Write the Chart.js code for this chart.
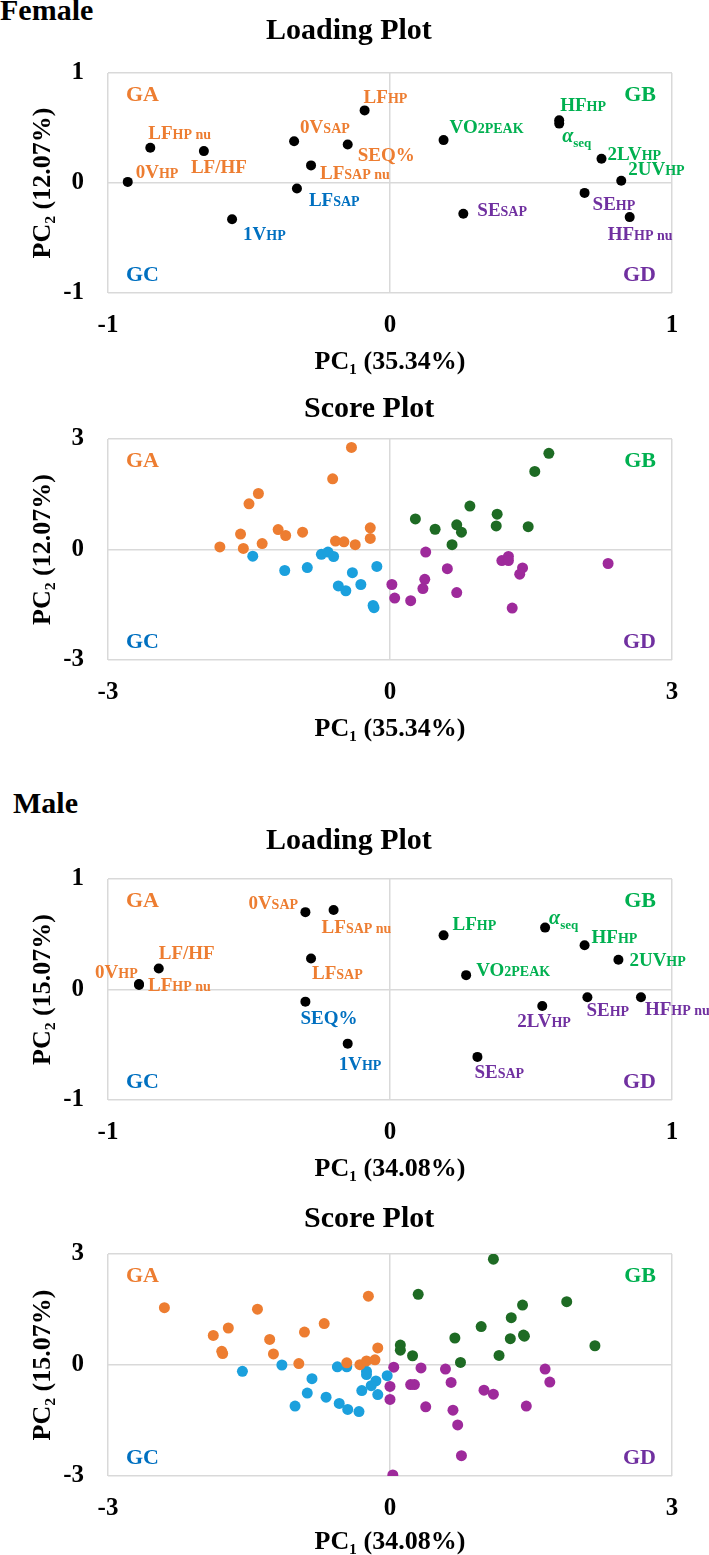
<!DOCTYPE html>
<html>
<head>
<meta charset="utf-8">
<script src="https://cdn.jsdelivr.net/npm/chart.js@4.4.1/dist/chart.umd.min.js"></script>
<style>
  body { margin: 0; width: 709px; height: 1555px; position: relative; background: #fff; overflow: hidden; }
  .head { position: absolute; font: bold 30px "Liberation Serif", "Times New Roman", serif; line-height: 30px; white-space: nowrap; color: #000; z-index: 2; }
  canvas { position: absolute; left: 0; }
</style>
</head>
<body>
<div class="head" style="left:0;top:-5px">Female</div>
<div class="head" style="left:266px;top:14px">Loading Plot</div>
<div class="head" style="left:304px;top:392px">Score Plot</div>
<div class="head" style="left:13px;top:788px">Male</div>
<div class="head" style="left:266px;top:824px">Loading Plot</div>
<div class="head" style="left:304px;top:1202px">Score Plot</div>

<canvas id="female-loading" width="709" height="344" style="top:34px"></canvas>
<canvas id="female-score" width="709" height="345" style="top:400px"></canvas>
<canvas id="male-loading" width="709" height="345" style="top:840px"></canvas>
<canvas id="male-score" width="709" height="343" style="top:1215px"></canvas>

<script>
// quadrant groups
const groupNames = ["GA", "GB", "GC", "GD"];

// loading plot, female  ("|" = smaller part, "_" = subscript)
const femaleVars = ["0V|HP", "LF|HP nu", "LF/HF", "1V|HP", "0V|SAP", "LF|SAP", "LF|SAP nu", "SEQ%", "LF|HP",
    "VO|2PEAK", "SE|SAP", "HF|HP", "α_seq", "2LV|HP", "2UV|HP", "SE|HP", "HF|HP nu"];
const femalePC1 = [-0.93, -0.85, -0.66, -0.56, -0.34, -0.33, -0.28, -0.15, -0.09, 0.19, 0.26, 0.60, 0.60, 0.75, 0.82, 0.69, 0.85];
const femalePC2 = [0.01, 0.32, 0.29, -0.33, 0.38, -0.05, 0.16, 0.35, 0.66, 0.39, -0.28, 0.57, 0.54, 0.22, 0.02, -0.09, -0.31];
const femaleGroup = ["GA", "GA", "GA", "GC", "GA", "GC", "GA", "GA", "GA", "GB", "GD", "GB", "GB", "GB", "GB", "GD", "GD"];

// loading plot, male
const maleVars = ["0V|HP", "LF|HP nu", "LF/HF", "0V|SAP", "LF|SAP nu", "LF|SAP", "SEQ%", "1V|HP", "LF|HP",
    "α_seq", "HF|HP", "2UV|HP", "VO|2PEAK", "2LV|HP", "SE|HP", "HF|HP nu", "SE|SAP"];
const malePC1 = [-0.89, -0.89, -0.82, -0.30, -0.20, -0.28, -0.30, -0.15, 0.19, 0.55, 0.69, 0.81, 0.27, 0.54, 0.70, 0.89, 0.31];
const malePC2 = [0.04, 0.05, 0.19, 0.70, 0.72, 0.28, -0.11, -0.49, 0.49, 0.56, 0.40, 0.27, 0.13, -0.15, -0.07, -0.07, -0.61];
const maleGroup = ["GA", "GA", "GA", "GA", "GA", "GA", "GC", "GC", "GB", "GB", "GB", "GB", "GB", "GD", "GD", "GD", "GD"];

// score plot, female [PC1, PC2]
const femaleScoreGA = [[-0.41, 2.77], [-0.61, 1.92], [-1.40, 1.52], [-1.50, 1.24], [-1.81, 0.07], [-1.56, 0.03],
    [-1.59, 0.42], [-1.36, 0.16], [-1.19, 0.54], [-1.11, 0.38], [-0.93, 0.47], [-0.58, 0.23], [-0.49, 0.21],
    [-0.37, 0.13], [-0.21, 0.59], [-0.21, 0.30]];
const femaleScoreGB = [[1.69, 2.61], [1.54, 2.12], [0.85, 1.18], [0.27, 0.83], [0.48, 0.55], [0.71, 0.67],
    [0.76, 0.47], [0.66, 0.13], [1.14, 0.96], [1.13, 0.64], [1.47, 0.62]];
const femaleScoreGC = [[-1.46, -0.18], [-1.12, -0.57], [-0.88, -0.49], [-0.73, -0.13], [-0.66, -0.07],
    [-0.60, -0.19], [-0.40, -0.63], [-0.55, -0.99], [-0.47, -1.12], [-0.31, -0.95], [-0.14, -0.46],
    [-0.18, -1.52], [-0.17, -1.58]];
const femaleScoreGD = [[0.38, -0.07], [0.61, -0.52], [0.37, -0.81], [0.35, -1.06], [0.02, -0.95], [0.05, -1.32],
    [0.22, -1.39], [0.71, -1.17], [1.19, -0.30], [1.26, -0.19], [1.26, -0.30], [1.41, -0.50], [1.38, -0.67],
    [1.30, -1.59], [2.32, -0.38]];

// score plot, male [PC1, PC2]
const maleScoreGA = [[-2.40, 1.55], [-1.41, 1.51], [-0.23, 1.86], [-1.72, 1.00], [-1.88, 0.80], [-0.70, 1.12],
    [-0.91, 0.89], [-1.28, 0.69], [-1.79, 0.37], [-1.78, 0.31], [-1.24, 0.30], [-0.97, 0.04], [-0.46, 0.06],
    [-0.13, 0.46], [-0.32, 0.01], [-0.25, 0.11], [-0.16, 0.14]];
const maleScoreGB = [[1.10, 2.86], [0.30, 1.91], [1.88, 1.71], [1.41, 1.62], [1.29, 1.28], [0.97, 1.04],
    [0.69, 0.73], [1.28, 0.71], [1.42, 0.81], [1.43, 0.78], [2.18, 0.52], [0.11, 0.54], [0.11, 0.40],
    [0.24, 0.25], [1.16, 0.26], [0.75, 0.07]];
const maleScoreGC = [[-1.57, -0.17], [-1.15, 0.00], [-0.83, -0.37], [-0.88, -0.76], [-1.01, -1.11], [-0.68, -0.87],
    [-0.54, -1.04], [-0.45, -1.20], [-0.33, -1.26], [-0.56, -0.05], [-0.46, -0.05], [-0.25, -0.17],
    [-0.25, -0.26], [-0.15, -0.43], [-0.20, -0.56], [-0.30, -0.69], [-0.13, -0.80], [-0.03, -0.29]];
const maleScoreGD = [[0.04, -0.06], [0.33, -0.08], [0.59, -0.11], [1.65, -0.11], [1.70, -0.46], [0.65, -0.47],
    [0.00, -0.58], [0.22, -0.53], [0.26, -0.53], [0.00, -0.93], [0.38, -1.13], [0.67, -1.22], [0.72, -1.62],
    [0.76, -2.45], [0.03, -2.97], [1.00, -0.68], [1.10, -0.79], [1.45, -1.11]];

/* ---------- styling ---------- */
const serif = '"Liberation Serif", "Times New Roman", serif';
const textColors = { GA: "rgb(237,125,49)", GB: "rgb(0,176,80)", GC: "rgb(0,112,192)", GD: "rgb(112,48,160)" };
const dotColors = { GA: "rgb(237,125,49)", GB: "rgb(30,107,36)", GC: "rgb(27,160,221)", GD: "rgb(158,42,155)" };

// label placement next to each point: [dx to left edge, dy to baseline]
const femaleLabelOffsets = [[8, -4], [-2, -9], [-13, 22], [11, 21], [6, -8], [12, 17], [9, 14], [10, 16], [-1, -7],
    [6, -7], [14, 2], [1, -9], [3, 18], [6, 1], [7, -6], [8, 17], [-22, 23]];
const maleLabelOffsets = [[-44, -7], [9, 7], [0, -10], [-57, -3], [-12, 23], [1, 20], [-5, 22], [-9, 26], [9, -5],
    [4, -4], [7, -2], [11, 6], [10, 1], [-25, 21], [-1, 19], [4, 18], [-3, 21]];

function drawRich(ctx, spec, x, y, color) {
    ctx.fillStyle = color;
    ctx.textAlign = "left";
    ctx.textBaseline = "alphabetic";
    if (spec.includes("_")) {
        const [a, b] = spec.split("_");
        ctx.font = "italic bold 20px " + serif;
        ctx.fillText(a, x, y);
        const w = ctx.measureText(a).width;
        ctx.font = "bold 13px " + serif;
        ctx.fillText(b, x + w, y + 5);
        return;
    }
    const [big, small] = spec.split("|");
    ctx.font = "bold 19px " + serif;
    ctx.fillText(big, x, y);
    if (small) {
        const w = ctx.measureText(big).width;
        ctx.font = "bold 14px " + serif;
        ctx.fillText(small, x + w, y);
    }
}

const annotatePlugin = {
    id: "annotate",
    afterDatasetsDraw(chart, args, opts) {
        const ctx = chart.ctx;
        const a = chart.chartArea;
        ctx.save();
        ctx.font = "bold 22px " + serif;
        ctx.textBaseline = "alphabetic";
        ctx.fillStyle = textColors.GA; ctx.textAlign = "left";
        ctx.fillText(groupNames[0], a.left + 18, a.top + 28);
        ctx.fillStyle = textColors.GC;
        ctx.fillText(groupNames[2], a.left + 18, a.bottom - 12);
        ctx.fillStyle = textColors.GB; ctx.textAlign = "right";
        ctx.fillText(groupNames[1], a.right - 16, a.top + 28);
        ctx.fillStyle = textColors.GD;
        ctx.fillText(groupNames[3], a.right - 16, a.bottom - 12);
        if (opts.names) {
            const meta = chart.getDatasetMeta(0);
            meta.data.forEach((pt, i) => {
                const off = opts.offsets[i];
                drawRich(ctx, opts.names[i], pt.x + off[0], pt.y + off[1], textColors[opts.groups[i]]);
            });
        }
        ctx.restore();
    }
};

function makeOptions(lim, xTitle, yTitle, xAxisHeight, annotate) {
    const tickFont = { family: serif, size: 25, weight: "bold" };
    const titleFont = { family: serif, size: 26, weight: "bold" };
    return {
        responsive: false,
        animation: false,
        layout: { padding: { top: 20, right: 37, bottom: 0, left: 0 } },
        plugins: {
            legend: { display: false },
            tooltip: { enabled: false },
            annotate: annotate
        },
        scales: {
            x: {
                type: "linear",
                position: "bottom",
                min: -lim,
                max: lim,
                ticks: { stepSize: lim, font: tickFont, color: "#000", padding: 18 },
                grid: { color: "#d9d9d9", lineWidth: 1.5, drawTicks: false },
                border: { display: false },
                title: { display: true, text: xTitle, font: titleFont, color: "#000", padding: { top: 0, bottom: 0 } },
                afterFit: function (scale) { scale.height = xAxisHeight; }
            },
            y: {
                type: "linear",
                min: -lim,
                max: lim,
                ticks: { stepSize: lim, font: tickFont, color: "#000", padding: 24 },
                grid: { color: "#d9d9d9", lineWidth: 1.5, drawTicks: false },
                border: { display: false },
                title: { display: true, text: yTitle, font: titleFont, color: "#000", padding: { top: 28, bottom: 0 } },
                afterFit: function (scale) { scale.width = 108; }
            }
        }
    };
}

function loadingChart(id, names, pc1, pc2, groups, offsets, xTitle, yTitle) {
    new Chart(document.getElementById(id), {
        type: "scatter",
        data: {
            datasets: [{
                data: pc1.map((v, i) => ({ x: v, y: pc2[i] })),
                pointRadius: 5,
                pointBackgroundColor: "#000",
                pointBorderWidth: 0
            }]
        },
        options: makeOptions(1, xTitle, yTitle, 85, { names: names, offsets: offsets, groups: groups }),
        plugins: [annotatePlugin]
    });
}

function scoreChart(id, sets, xTitle, yTitle, xAxisHeight) {
    new Chart(document.getElementById(id), {
        type: "scatter",
        data: {
            datasets: groupNames.map((g, k) => ({
                data: sets[k].map(p => ({ x: p[0], y: p[1] })),
                pointRadius: 5.5,
                pointBackgroundColor: dotColors[g],
                pointBorderWidth: 0
            }))
        },
        options: makeOptions(3, xTitle, yTitle, xAxisHeight, {}),
        plugins: [annotatePlugin]
    });
}

loadingChart("female-loading", femaleVars, femalePC1, femalePC2, femaleGroup, femaleLabelOffsets,
    "PC\u2081 (35.34%)", "PC\u2082 (12.07%)");
scoreChart("female-score", [femaleScoreGA, femaleScoreGB, femaleScoreGC, femaleScoreGD],
    "PC\u2081 (35.34%)", "PC\u2082 (12.07%)", 85);
loadingChart("male-loading", maleVars, malePC1, malePC2, maleGroup, maleLabelOffsets,
    "PC\u2081 (34.08%)", "PC\u2082 (15.07%)");
scoreChart("male-score", [maleScoreGA, maleScoreGB, maleScoreGC, maleScoreGD],
    "PC\u2081 (34.08%)", "PC\u2082 (15.07%)", 82);
</script>
</body>
</html>
